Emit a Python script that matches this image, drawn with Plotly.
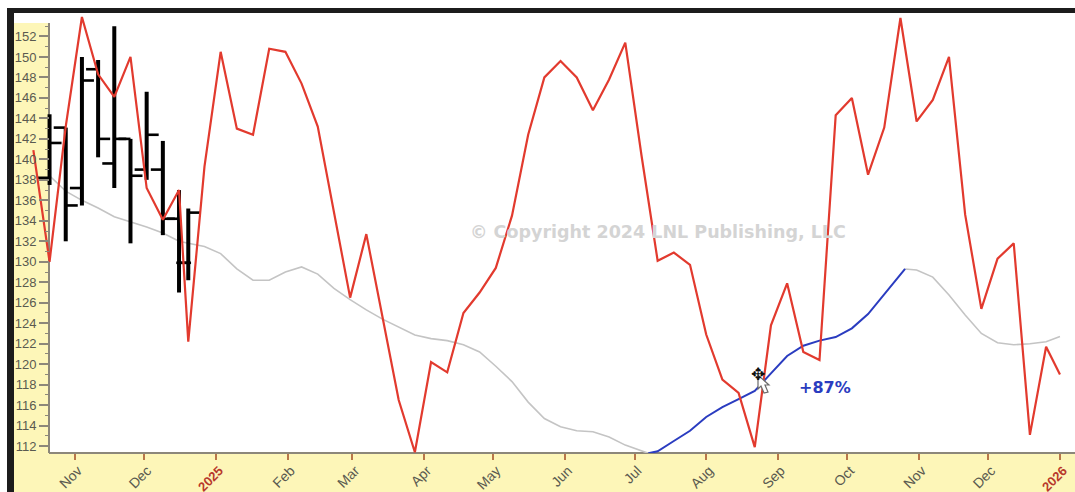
import pandas as pd
import plotly.graph_objects as go

# ---------- data ----------
weekly_a = [d.strftime("%Y-%m-%d") for d in pd.date_range("2024-10-14", periods=10, freq="7D")]
weekly_b = [d.strftime("%Y-%m-%d") for d in pd.date_range("2024-12-20", "2025-12-26", freq="7D")]
red_dates = weekly_a + weekly_b + ["2026-01-01"]
red_values = [140.9, 130.0, 143.2, 153.9, 148.3, 146.1, 150.0, 137.2, 134.1, 137.0,
              122.2, 139.3, 150.5, 143.0, 142.4, 150.8, 150.5, 147.4, 143.2, 135.0,
              126.5, 132.7, 124.5, 116.5, 111.4, 120.2, 119.2, 125.0, 127.0, 129.4,
              134.5, 142.4, 148.0, 149.6, 148.0, 144.8, 147.8, 151.4, 140.4, 130.1,
              130.9, 129.7, 122.9, 118.5, 117.2, 111.9, 123.8, 127.9, 121.2, 120.4,
              144.3, 146.0, 138.5, 143.1, 153.8, 143.7, 145.8, 150.0, 134.6, 125.4,
              130.3, 131.8, 113.1, 121.7, 119.0]

bar_dates = red_dates[1:11]
bar_open = [138.2, 143.1, 137.2, 148.8, 139.6, 142.0, 139.0, 139.0, 134.2, 129.9]
bar_high = [144.4, 143.1, 150.0, 149.7, 153.0, 142.0, 146.6, 141.8, 137.0, 135.2]
bar_low = [137.5, 132.0, 135.5, 140.2, 137.2, 131.8, 138.0, 132.6, 127.0, 128.2]
bar_close = [141.6, 135.5, 147.7, 142.0, 142.0, 138.4, 142.4, 134.2, 129.9, 134.8]

gray1_dates = red_dates[1:39] + ["2025-07-07"]
gray1_values = [138.4, 136.9, 136.0, 135.25, 134.4, 133.9, 133.4, 132.8, 132.0,
                131.8, 131.5, 130.8, 129.3, 128.2, 128.2, 129.0, 129.5, 128.8, 127.4,
                126.3, 125.3, 124.4, 123.6, 122.85, 122.5, 122.3, 121.9, 121.2, 119.8,
                118.3, 116.3, 114.7, 113.9, 113.5, 113.4, 112.9, 112.1, 111.5, 111.3]

blue_dates = ["2025-07-07"] + red_dates[39:55] + ["2025-10-26"]
blue_values = [111.3, 111.5, 112.5, 113.5, 114.85, 115.8, 116.6, 117.4, 119.1,
               120.8, 121.8, 122.3, 122.65, 123.5, 124.9, 126.85, 128.7, 129.3]

gray2_dates = ["2025-10-26"] + red_dates[55:]
gray2_values = [129.3, 129.2, 128.5, 126.75, 124.8, 123.0, 122.1, 121.9, 122.0, 122.2, 122.7]

x_tick_dates = ["2024-11-01", "2024-12-01", "2025-01-01", "2025-02-01", "2025-03-01",
                "2025-04-01", "2025-05-01", "2025-06-01", "2025-07-01", "2025-08-01",
                "2025-09-01", "2025-10-01", "2025-11-01", "2025-12-01", "2026-01-01"]
x_tick_labels = ["Nov", "Dec", "2025", "Feb", "Mar", "Apr", "May", "Jun", "Jul", "Aug",
                 "Sep", "Oct", "Nov", "Dec", "2026"]
y_ticks = list(range(112, 153, 2))
y_minor = list(range(112, 154))

# ---------- layout geometry ----------
W, H = 1075, 492
L, R, T, B = 14, 1075, 13, 453
AXIS_X, AXIS_TOP = 49, 23


def px(x):
    return (x - L) / (R - L)


def py(y):
    return (B - y) / (B - T)


def rect(x0, y0, x1, y1, color):
    return dict(type="rect", xref="paper", yref="paper", x0=px(x0), x1=px(x1),
                y0=py(y1), y1=py(y0), fillcolor=color, line_width=0, layer="below")


YELLOW = "#fdf6b8"
FRAME = "#1c1c1c"
AXIS = "#8c877a"
TICK_TEXT = "#5a5a50"

fig = go.Figure()

# Gray / blue moving-average segments
for xs, ys, col, w in [(gray1_dates, gray1_values, "#c4c4c4", 1.6),
                       (gray2_dates, gray2_values, "#c4c4c4", 1.6),
                       (blue_dates, blue_values, "#2a3cc0", 2.0)]:
    fig.add_trace(go.Scatter(x=xs, y=ys, mode="lines", line=dict(color=col, width=w),
                             showlegend=False, hoverinfo="skip"))

# Price bars: stems plus open/close ticks
stem_x, stem_y, tick_x, tick_y = [], [], [], []
arm = pd.Timedelta(days=5.2)
for d, o, h, l, c in zip(bar_dates, bar_open, bar_high, bar_low, bar_close):
    t = pd.Timestamp(d)
    stem_x += [t, t, None]
    stem_y += [l, h, None]
    tick_x += [t - arm, t, None, t, t + arm, None]
    tick_y += [o, o, None, c, c, None]
fig.add_trace(go.Scatter(x=stem_x, y=stem_y, mode="lines", line=dict(color="#000", width=4),
                         showlegend=False, hoverinfo="skip"))
fig.add_trace(go.Scatter(x=tick_x, y=tick_y, mode="lines", line=dict(color="#000", width=2.6),
                         showlegend=False, hoverinfo="skip"))

# Red seasonal line
fig.add_trace(go.Scatter(x=red_dates, y=red_values, mode="lines",
                         line=dict(color="#e23a2e", width=2.2),
                         showlegend=False, hoverinfo="skip"))

ticktext = [f'<span style="color:#b8392c;font-size:13px"><b>{t}</b></span>' if t.isdigit() else t
            for t in x_tick_labels]

fig.update_layout(
    width=W, height=H, autosize=False,
    margin=dict(l=L, r=W - R, t=T, b=H - B, pad=0),
    paper_bgcolor="white", plot_bgcolor="white",
    font=dict(family="Liberation Sans", color=TICK_TEXT),
    showlegend=False,
    xaxis=dict(
        type="date", automargin=False,
        range=["2024-10-05 15:00", "2026-01-07 12:00"],
        tickmode="array", tickvals=x_tick_dates, ticktext=ticktext,
        tickangle=-45, tickfont=dict(size=14, color=TICK_TEXT),
        ticks="outside", ticklen=6, tickwidth=2, tickcolor="#b8774a",
        ticklabelstandoff=-3, ticklabelshift=3,
        showline=False, showgrid=False, zeroline=False,
    ),
    yaxis=dict(
        automargin=False,
        anchor="free", position=px(AXIS_X),
        range=[111.33, 154.29],
        tickmode="array", tickvals=y_ticks,
        tickfont=dict(size=13, color=TICK_TEXT),
        ticks="outside", ticklen=10, tickwidth=1.5, tickcolor=AXIS,
        minor=dict(tickmode="array", tickvals=y_minor, ticks="outside", ticklen=4,
                   tickwidth=1, tickcolor=AXIS),
        showline=False, showgrid=False, zeroline=False,
    ),
    shapes=[
        rect(14, AXIS_TOP, AXIS_X, 453, YELLOW),
        rect(14, 453, 1075, 492, YELLOW),
        rect(7, 8, 14, 492, FRAME),
        rect(7, 8, 1075, 13, FRAME),
        dict(type="line", xref="paper", yref="paper", x0=px(AXIS_X), x1=px(AXIS_X),
             y0=py(453), y1=py(AXIS_TOP), line=dict(color=AXIS, width=2), layer="below"),
        dict(type="line", xref="paper", yref="paper", x0=px(AXIS_X), x1=px(1075),
             y0=py(453), y1=py(453), line=dict(color=AXIS, width=2), layer="below"),
        # mouse cursor arrow
        dict(type="path", xref="paper", yref="paper",
             xsizemode="pixel", ysizemode="pixel", xanchor=px(758), yanchor=py(375),
             path="M 0 0 L 0 -14 L 3 -11 L 6 -18 L 10 -17 L 7 -10 L 11 -10 Z",
             fillcolor="#ffffff", line=dict(color="#6a6a6a", width=1.2), layer="above"),
    ],
    annotations=[
        dict(xref="paper", yref="paper", x=px(658), y=py(232), xanchor="center", yanchor="middle",
             text="© Copyright 2024 LNL Publishing, LLC", showarrow=False,
             font=dict(family="DejaVu Sans", size=17.5, color="#d4d4d4", weight="bold")),
        dict(xref="paper", yref="paper", x=px(825), y=py(387), xanchor="center", yanchor="middle",
             text="<b>+87%</b>", showarrow=False,
             font=dict(family="DejaVu Sans", size=16, color="#2a3cc0")),
        dict(xref="paper", yref="paper", x=px(758), y=py(374), xanchor="center", yanchor="middle",
             text="✥", showarrow=False,
             font=dict(family="DejaVu Sans", size=17, color="#111")),
    ],
)

fig.write_html("out.html", config=dict(displayModeBar=False),
               post_script="document.body.style.margin='0';")
